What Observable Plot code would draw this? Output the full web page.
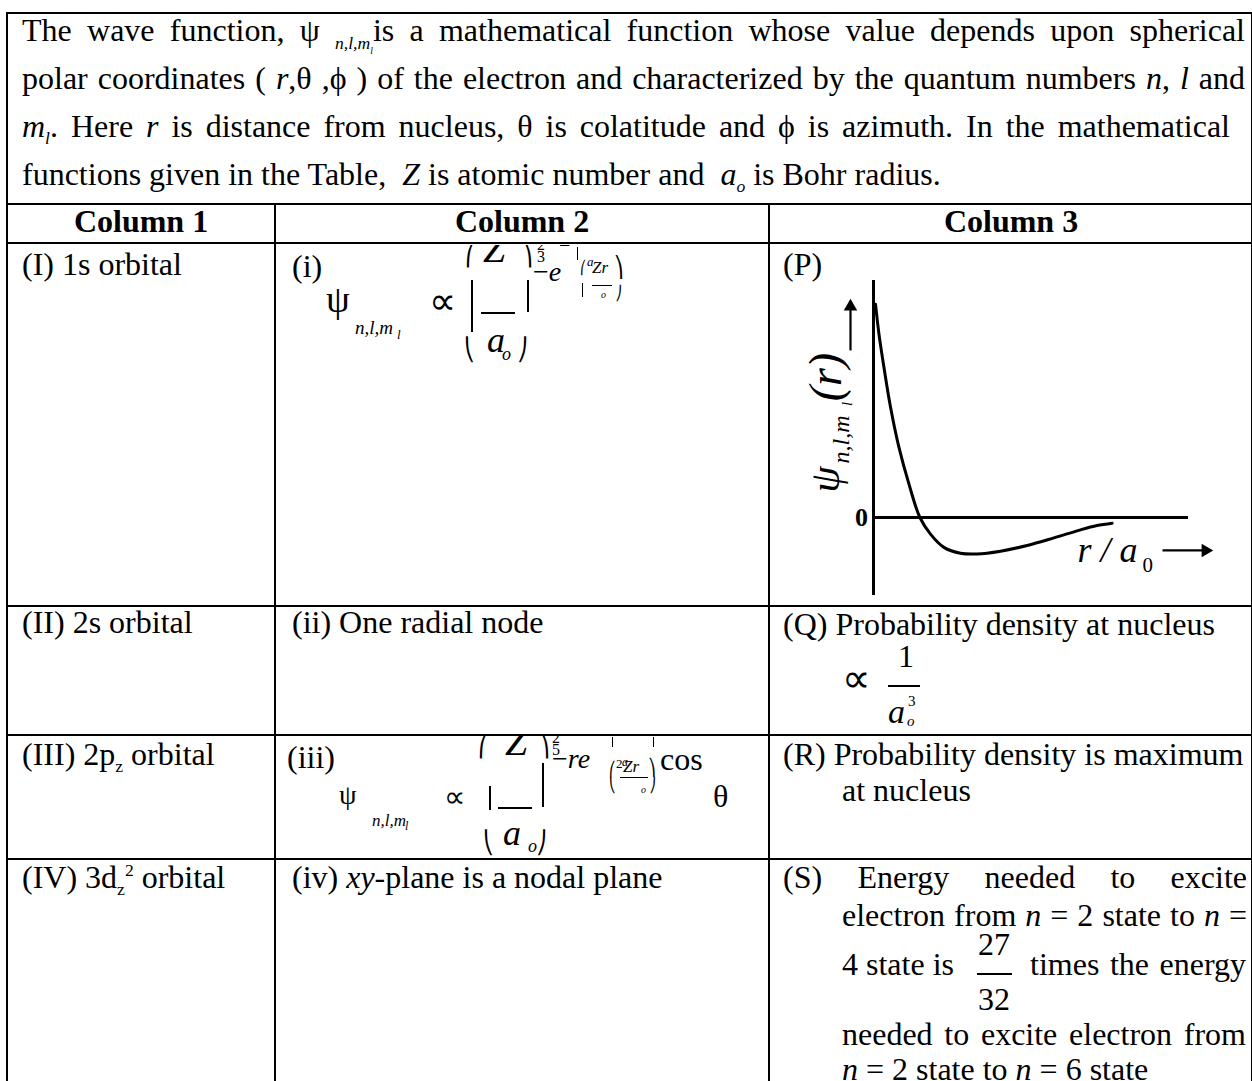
<!DOCTYPE html>
<html><head><meta charset="utf-8">
<script src="https://cdn.jsdelivr.net/npm/d3@7"></script>
<script src="https://cdn.jsdelivr.net/npm/@observablehq/plot@0.6"></script>
<style>
html,body{margin:0;padding:0;background:#fff;overflow:hidden}
#page{position:relative;width:1252px;height:1081px;overflow:hidden;font-family:"Liberation Serif","Times New Roman",serif;color:#000;background:#fff}
.t{position:absolute;line-height:1;white-space:nowrap}
.j{position:absolute;line-height:1;text-align:justify;text-align-last:justify}
.ln{position:absolute;background:#000}
sub,sup{line-height:0;font-size:0.55em}
.clip{position:absolute;overflow:hidden}
.br{font-family:"DejaVu Sans",sans-serif}
</style></head><body><div id="page"></div>
<script>
// ---------- data ----------
const introLines = [
  "The wave function, ψ <sub><i>n,l,m<sub>l</sub></i></sub>is a mathematical function whose value depends upon spherical",
  "polar coordinates ( <i>r</i>,θ ,ϕ ) of the electron and characterized by the quantum numbers <i>n</i>, <i>l</i> and",
  " <i>m<sub>l</sub></i>. Here <i>r</i> is distance from nucleus, θ is colatitude and ϕ is azimuth. In the mathematical",
  "functions given in the Table, &nbsp;<i>Z</i> is atomic number and &nbsp;<i>a<sub>o</sub></i> is Bohr radius."
];
const columnHeaders = ["Column 1", "Column 2", "Column 3"];
const orbitals = ["(I) 1s orbital", "(II) 2s orbital", "(III) 2p<sub>z</sub> orbital", "(IV) 3d<sub>z</sub><sup>2</sup> orbital"];
const column2Text = ["(i)", "(ii) One radial node", "(iii)", "(iv) <i>xy</i>-plane is a nodal plane"];
const propertyLabels = ["(P)", "(Q) Probability density at nucleus", "(R) Probability density is maximum", "at nucleus"];
const statementS = [
  "(S) Energy needed to excite",
  "electron from <i>n</i> = 2 state to <i>n</i> =",
  "4 state is",
  "times the energy",
  "needed to excite electron from",
  "<i>n</i> = 2 state to <i>n</i> = 6 state"
];
const fractionS = ["27", "32"];
const fractionQ = ["1", "a", "3", "o"];
// radial wave function curve (P)
const rOverA0 = [0.1, 0.27, 0.52, 0.85, 1.27, 1.77, 2.32, 2.85, 3.52, 4.35, 5.18, 6.35, 7.68, 9.02, 10.35, 11.18, 11.93];
const psiValues = [0.90, 0.776, 0.635, 0.466, 0.297, 0.142, 0.0, -0.07, -0.126, -0.151, -0.154, -0.142, -0.118, -0.086, -0.052, -0.034, -0.024];
const axisTicks = ["0"];
const axisLabels = {x: "r / a", xSub: "0", y: "ψ", ySub: "n,l,m", ySubSub: "l", yArg: "(r)"};

// ---------- helpers ----------
const page = document.getElementById("page");
function T(html, x, base, size, opts = {}) {
  const d = document.createElement("div");
  d.className = opts.justify ? "j" : "t";
  d.innerHTML = html;
  const ox = opts.parent ? opts.parent._ox : 0, oy = opts.parent ? opts.parent._oy : 0;
  d.style.left = (x - ox) + "px";
  d.style.top = (base - 0.8375 * size - oy) + "px";
  d.style.fontSize = size + "px";
  if (opts.width) d.style.width = opts.width + "px";
  if (opts.bold) d.style.fontWeight = "bold";
  if (opts.italic) d.style.fontStyle = "italic";
  if (opts.cls) d.classList.add(opts.cls);
  (opts.parent || page).appendChild(d);
  return d;
}
function L(x, y, w, h, parent) {
  const d = document.createElement("div");
  d.className = "ln";
  const ox = parent ? parent._ox : 0, oy = parent ? parent._oy : 0;
  d.style.left = (x - ox) + "px"; d.style.top = (y - oy) + "px";
  d.style.width = w + "px"; d.style.height = h + "px";
  (parent || page).appendChild(d);
}
function clip(x, y, w, h) {
  const d = document.createElement("div");
  d.className = "clip";
  d.style.left = x + "px"; d.style.top = y + "px"; d.style.width = w + "px"; d.style.height = h + "px";
  d._ox = x; d._oy = y;
  page.appendChild(d);
  return d;
}

// ---------- chart (P) ----------
const plotBox = document.createElement("div");
plotBox.style.cssText = "position:absolute;left:800px;top:260px;width:450px;height:340px";
page.appendChild(plotBox);
const curve = rOverA0.map((r, i) => ({r, psi: psiValues[i]}));
const serif = "Liberation Serif, Times New Roman, serif";
const yArrow = [{x1: -1.15, y1: 0.705, x2: -1.15, y2: 0.89}];
const xArrow = [{x1: 14.45, y1: -0.139, x2: 16.6, y2: -0.139}];
const chart = Plot.plot({
  width: 450, height: 340, margin: 0,
  x: {domain: [-3.65, 18.85], axis: null},
  y: {domain: [-0.3502, 1.0844], axis: null},
  style: {background: "transparent", fontFamily: serif, color: "#000", overflow: "visible"},
  marks: [
    Plot.ruleX([0], {y1: -0.329, y2: 1.0, stroke: "#000", strokeWidth: 3}),
    Plot.ruleY([0], {x1: 0, x2: 15.75, stroke: "#000", strokeWidth: 3}),
    Plot.line(curve, {x: "r", y: "psi", curve: "catmull-rom", stroke: "#000", strokeWidth: 3}),
    Plot.text(axisTicks, {x: -0.6, y: 0, fontWeight: "bold", fontSize: 26, fontFamily: serif, fill: "#000"}),
    // y label (rotated)
    Plot.text([axisLabels.y], {x: -2.4, y: 0.105, rotate: -90, textAnchor: "start", fontSize: 42, fontStyle: "italic", fontFamily: serif, fill: "#000"}),
    Plot.text([axisLabels.ySub], {x: -1.6, y: 0.228, rotate: -90, textAnchor: "start", fontSize: 24, fontStyle: "italic", fontFamily: serif, fill: "#000"}),
    Plot.text([axisLabels.ySubSub], {x: -1.3, y: 0.47, rotate: -90, textAnchor: "start", fontSize: 15, fontStyle: "italic", fontFamily: serif, fill: "#000"}),
    Plot.text([axisLabels.yArg], {x: -2.35, y: 0.49, rotate: -90, textAnchor: "start", fontSize: 46, fontStyle: "italic", fontFamily: serif, fill: "#000"}),
    Plot.link(yArrow, {x1: "x1", y1: "y1", x2: "x2", y2: "y2", stroke: "#000", strokeWidth: 2.2}),
    Plot.dot(yArrow, {x: "x2", y: "y2", symbol: "triangle", r: 5, fill: "#000", stroke: null}),
    // x label
    Plot.text([axisLabels.x], {x: 10.2, y: -0.141, textAnchor: "start", fontSize: 36, fontStyle: "italic", fontFamily: serif, fill: "#000"}),
    Plot.text([axisLabels.xSub], {x: 13.45, y: -0.2, textAnchor: "start", fontSize: 21, fontFamily: serif, fill: "#000"}),
    Plot.link(xArrow, {x1: "x1", y1: "y1", x2: "x2", y2: "y2", stroke: "#000", strokeWidth: 2.2}),
    Plot.dot(xArrow, {x: "x2", y: "y2", symbol: "triangle", rotate: 90, r: 5, fill: "#000", stroke: null})
  ]
});
plotBox.appendChild(chart);

// ---------- table grid ----------
L(6, 12, 1250, 2);          // top border
L(6, 12, 2, 1075);          // left border
L(1251, 12, 2, 1075);       // right border (at edge)
L(6, 203, 1250, 2);         // intro / header
L(6, 242, 1250, 2);         // header bottom
L(6, 605, 1250, 2);         // row I bottom
L(6, 734, 1250, 2);         // row II bottom
L(6, 858, 1250, 2);         // row III bottom
L(274, 203, 2, 880);        // col divider 1
L(768, 203, 2, 880);        // col divider 2

// ---------- intro ----------
T(introLines[0], 22, 41, 32, {justify: true, width: 1223});
T(introLines[1], 22, 89, 32, {justify: true, width: 1223});
T(introLines[2], 22, 137, 32, {justify: true, width: 1208});
T(introLines[3], 22, 185, 32);

// ---------- headers ----------
const colCenters = [141, 522, 1011];
columnHeaders.forEach((h, i) => {
  const d = T(h, colCenters[i], 232, 32, {bold: true});
  d.style.transform = "translateX(-50%)";
});

// ---------- column 1 ----------
const rowBase = [275, 633, 765, 888];
orbitals.forEach((o, i) => T(o, 22, rowBase[i], 32));

// ---------- column 2 ----------
T(column2Text[1], 292, rowBase[1], 32);
T(column2Text[3], 292, rowBase[3], 32);

// (i) formula
const c1 = clip(276, 245, 492, 360);
T(column2Text[0], 292, 277, 32, {parent: c1});
T("ψ", 326, 312, 38, {parent: c1});
T("<i>n,l,m</i>", 355, 334, 19, {parent: c1});
T("<i>l</i>", 397, 339, 13, {parent: c1});
T("∝", 429, 314, 38, {parent: c1});
T("⎛", 465, 262, 22, {parent: c1, cls: "br"});
T("<i>Z</i>", 483, 262, 40, {parent: c1});
T("⎞", 522, 262, 22, {parent: c1, cls: "br"});
T("2", 537, 250, 16, {parent: c1});
T("3", 537, 262, 16, {parent: c1});
L(471, 280, 2, 52, c1);
L(527, 280, 2, 32, c1);
L(481, 312, 34, 1.5, c1);
T("⎝", 464, 357, 22, {parent: c1, cls: "br"});
T("<i>a</i>", 487, 352, 36, {parent: c1});
T("<i>o</i>", 502, 360, 18, {parent: c1});
T("⎠", 517, 357, 22, {parent: c1, cls: "br"});
T("−<i>e</i>", 533, 281, 28, {parent: c1});
T("−", 559, 252, 20, {parent: c1});
L(577, 247, 1.2, 13, c1);
T("⎛", 580, 272, 13, {parent: c1, cls: "br"});
T("<i>a</i>", 587, 266, 13, {parent: c1});
T("<i>Zr</i>", 592, 273, 17, {parent: c1});
T("⎞", 614, 274, 20, {parent: c1, cls: "br"});
L(582, 283, 1.2, 14, c1);
L(592, 285, 20, 1.2, c1);
T("<i>o</i>", 601, 298, 10, {parent: c1});
T("⎠", 615, 298, 14, {parent: c1, cls: "br"});

// (iii) formula
const c3 = clip(276, 736, 492, 122);
T(column2Text[2], 287, 768, 32, {parent: c3});
T("ψ", 339, 804, 28, {parent: c3});
T("<i>n,l,m</i>", 372, 826, 17, {parent: c3});
T("<i>l</i>", 405, 830, 12, {parent: c3});
T("∝", 444, 807, 30, {parent: c3});
T("⎛", 478, 753, 22, {parent: c3, cls: "br"});
T("<i>Z</i>", 505, 755, 40, {parent: c3});
T("⎞", 539, 753, 22, {parent: c3, cls: "br"});
T("2", 552, 743, 16, {parent: c3});
T("5", 552, 755, 16, {parent: c3});
T("−", 591, 742, 20, {parent: c3});
L(612, 737, 1.2, 10, c3);
L(653, 737, 1.2, 10, c3);
T("−<i>re</i>", 552, 768, 28, {parent: c3});
T("⎛", 609, 774, 14, {parent: c3, cls: "br"});
T("2", 616, 768, 13, {parent: c3});
T("<i>a</i>", 622, 766, 12, {parent: c3});
T("<i>Zr</i>", 623, 772, 17, {parent: c3});
T("⎞", 648, 773, 16, {parent: c3, cls: "br"});
T("⎝", 609, 790, 14, {parent: c3, cls: "br"});
L(620, 777, 28, 1.2, c3);
T("<i>o</i>", 641, 793, 10, {parent: c3});
T("⎠", 649, 790, 14, {parent: c3, cls: "br"});
T("cos", 660, 770, 32, {parent: c3});
T("θ", 713, 807, 32, {parent: c3});
L(489, 786, 2, 24, c3);
L(542, 763, 2, 44, c3);
L(498, 807, 34, 1.5, c3);
T("⎝", 483, 850, 22, {parent: c3, cls: "br"});
T("<i>a</i>", 503, 845, 36, {parent: c3});
T("<i>o</i>", 528, 852, 18, {parent: c3});
T("⎠", 536, 850, 22, {parent: c3, cls: "br"});

// ---------- column 3 ----------
T(propertyLabels[0], 783, 275, 32);
T(propertyLabels[1], 783, 635, 32);
T("∝", 842, 692, 40);
T(fractionQ[0], 898, 667, 32);
L(888, 685, 32, 1.5);
T("<i>" + fractionQ[1] + "</i>", 888, 723, 34);
T(fractionQ[2], 908, 707, 15);
T("<i>" + fractionQ[3] + "</i>", 907, 727, 15);
T(propertyLabels[2], 783, 765, 32);
T(propertyLabels[3], 842, 801, 32);

T(statementS[0], 783, 888, 32, {justify: true, width: 464});
T(statementS[1], 842, 926, 32, {justify: true, width: 405});
T(statementS[2], 842, 975, 32);
T(fractionS[0], 978, 955, 32);
L(977, 973, 35, 1.5);
T(fractionS[1], 978, 1010, 32);
T(statementS[3], 1030, 975, 32, {justify: true, width: 216});
T(statementS[4], 842, 1045, 32, {justify: true, width: 404});
T(statementS[5], 842, 1080, 32);
</script></body></html>
